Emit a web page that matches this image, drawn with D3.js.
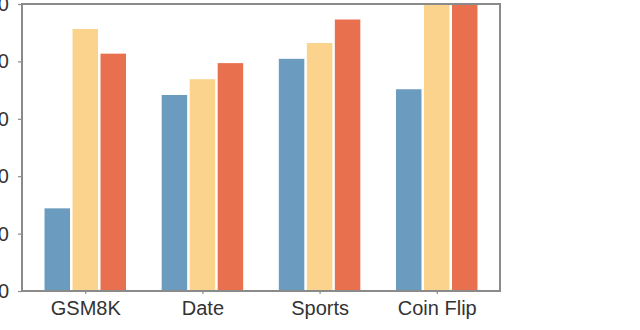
<!DOCTYPE html>
<html>
<head>
<meta charset="utf-8">
<script src="https://cdn.jsdelivr.net/npm/d3@7"></script>
<style>
  html, body { margin: 0; padding: 0; background: #fff; }
  svg { display: block; }
  text { font-family: "Liberation Sans", Arial, sans-serif; fill: #333; }
</style>
</head>
<body>
<script>
(function () {
    "use strict";

    // data
    var categories = ["GSM8K", "Date", "Sports", "Coin Flip"];
    var seriesA = [28.8, 68.3, 80.9, 70.3];
    var seriesB = [91.3, 73.8, 86.4, 100];
    var seriesC = [82.7, 79.4, 94.6, 100];
    var yTicks = [0, 20, 40, 60, 80, 100];

    var series = [seriesA, seriesB, seriesC];
    var colors = ["#6b9cbf", "#fcd38c", "#e9704f"];

    var width = 640, height = 330;
    var plot = {left: 22, right: 500, top: 4, bottom: 291};

    var svg = d3.select("body").append("svg")
        .attr("width", width)
        .attr("height", height);

    var x = d3.scalePoint()
        .domain(categories)
        .range([plot.left, plot.right])
        .padding(0.54);

    var y = d3.scaleLinear()
        .domain([0, 100])
        .range([plot.bottom, plot.top]);

    var barWidth = 25.5, offset = 28;

    // bars
    series.forEach(function (values, s) {
        svg.append("g")
            .selectAll("rect")
            .data(values)
            .enter().append("rect")
            .attr("x", function (d, i) { return x(categories[i]) + (s - 1) * offset - barWidth / 2; })
            .attr("y", function (d) { return y(d); })
            .attr("width", barWidth)
            .attr("height", function (d) { return y(0) - y(d); })
            .attr("fill", colors[s]);
    });

    // frame
    svg.append("rect")
        .attr("x", plot.left)
        .attr("y", plot.top)
        .attr("width", plot.right - plot.left)
        .attr("height", plot.bottom - plot.top)
        .attr("fill", "none")
        .attr("stroke", "#8a8a8a")
        .attr("stroke-width", 2);

    // y axis (labels run off the left edge, as in the cropped original)
    var yAxis = svg.append("g")
        .attr("transform", "translate(" + plot.left + ",0)")
        .call(d3.axisLeft(y).tickValues(yTicks).tickSize(4).tickPadding(9));
    yAxis.select(".domain").remove();
    yAxis.selectAll("line").attr("stroke", "#8a8a8a").attr("stroke-width", 1.2);
    yAxis.selectAll("text").style("font-size", "20px").attr("fill", "#333");

    // x axis
    var xAxis = svg.append("g")
        .attr("transform", "translate(0," + plot.bottom + ")")
        .call(d3.axisBottom(x).tickSize(3).tickPadding(7));
    xAxis.select(".domain").remove();
    xAxis.selectAll("line").attr("stroke", "#8a8a8a").attr("stroke-width", 1.2);
    xAxis.selectAll("text").style("font-size", "20px").attr("fill", "#333");
})();
</script>
</body>
</html>
